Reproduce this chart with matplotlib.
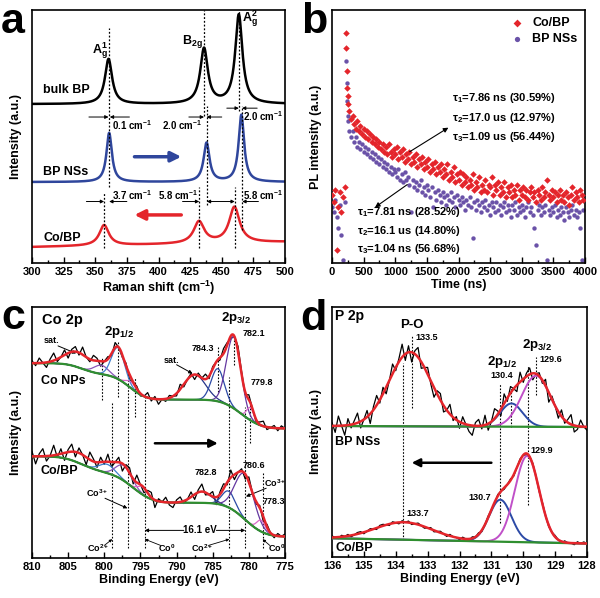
import math
import numpy as np
import matplotlib
matplotlib.use("Agg")
import matplotlib.pyplot as plt
from matplotlib.ticker import MultipleLocator, NullLocator

plt.rcParams["font.family"] = ["Liberation Sans", "DejaVu Sans"]
plt.rcParams["font.weight"] = "bold"
plt.rcParams["axes.labelweight"] = "bold"
plt.rcParams["mathtext.fontset"] = "custom"
plt.rcParams["mathtext.rm"] = "Liberation Sans:bold"
plt.rcParams["mathtext.it"] = "Liberation Sans:bold"
plt.rcParams["mathtext.bf"] = "Liberation Sans:bold"

# ---------------- data (y in axis-fraction units) -------
# (a) Raman: Lorentzian peak tables  [centre, amplitude, half width]
raman_bulk = [[360.5, 0.178, 3.4], [436.0, 0.218, 3.6], [463.5, 0.352, 3.4]]
raman_ns = [[361.0, 0.194, 2.6], [438.0, 0.154, 2.8], [465.5, 0.265, 2.6]]
raman_cobp = [[357.0, 0.081, 4.5], [432.0, 0.086, 5.0], [460.0, 0.141, 5.0]]
raman_base = {"bulk": (0.628, 0.628), "ns": (0.320, 0.320), "cobp": (0.063, 0.083)}

# (b) TRPL decay, sampled every 25 ns (percent of axis height)
pl_time = np.arange(0, 4000, 25)
pl_cobp = [27, 24, 29, 5, 22, 28, 20, 26, 30, 91,
           66, 60, 57, 58, 55, 53, 56, 52, 54, 51,
           53, 50, 52, 49, 51, 48, 50, 47, 49, 46,
           48, 45, 47, 44, 46, 43, 47, 44, 42, 45,
           43, 46, 41, 44, 42, 45, 40, 43, 41, 44,
           39, 42, 40, 43, 38, 41, 39, 42, 37, 40,
           38, 41, 36, 39, 37, 40, 35, 38, 36, 39,
           34, 37, 35, 39, 33, 36, 34, 38, 32, 35,
           33, 36, 31, 35, 32, 34, 30, 33, 31, 35,
           29, 32, 30, 34, 28, 31, 29, 33, 28, 31,
           30, 34, 27, 31, 29, 32, 27, 30, 28, 32,
           26, 30, 28, 31, 26, 29, 27, 31, 25, 29,
           27, 30, 26, 29, 25, 28, 30, 26, 28, 24,
           29, 27, 25, 30, 26, 28, 33, 27, 25, 29,
           26, 28, 24, 27, 29, 25, 27, 24, 28, 26,
           23, 27, 30, 25, 28, 26, 24, 29, 27, 25]
pl_ns = [22, 20, 25, 18, 14, 23, 11, 1, 24, 80,
         58, 52, 50, 52, 48, 50, 46, 48, 45, 47,
         44, 46, 43, 45, 42, 44, 41, 43, 40, 42,
         39, 41, 38, 40, 37, 39, 36, 38, 35, 37,
         36, 34, 37, 33, 35, 32, 36, 33, 34, 31,
         20, 33, 30, 32, 29, 31, 33, 28, 30, 27,
         31, 29, 26, 30, 22, 28, 25, 29, 27, 24,
         28, 26, 23, 27, 25, 28, 24, 26, 22, 27,
         25, 23, 26, 24, 21, 25, 23, 26, 22, 10,
         24, 21, 25, 23, 20, 24, 22, 25, 21, 23,
         19, 24, 22, 20, 24, 21, 23, 19, 22, 24,
         20, 23, 21, 18, 23, 21, 24, 19, 22, 20,
         23, 21, 18, 22, 24, 20, 22, 19, 14, 7,
         21, 23, 19, 22, 20, 23, 1, 21, 19, 22,
         20, 23, 18, 21, 19, 22, 20, 17, 22, 20,
         18, 21, 23, 19, 21, 18, 20, 14, 1, 21]
pl_peak_t_cobp = [215, 230, 240, 260]
pl_peak_cobp = [85, 76, 69, 63]
pl_peak_t_ns = [235, 245, 255]
pl_peak_ns = [71, 64, 56]

# (c) Co 2p: Shirley-like background steps [centre, height, width] + base
co_np_bg = (0.516, [[781.0, 0.115, 3.0], [796.5, 0.100, 2.5], [803.0, 0.045, 2.5]])
co_bp_bg = (0.085, [[780.5, 0.135, 3.0], [796.0, 0.120, 3.0], [803.0, 0.065, 3.0]])
# Gaussian components [centre, amplitude, sigma, colour key]
co_np_peaks = [[803.7, 0.060, 1.8, None], [800.4, 0.035, 1.0, "violet"],
               [798.1, 0.125, 0.9, "sky"], [796.3, 0.025, 0.7, "pink"],
               [787.5, 0.100, 1.5, "navy"], [784.3, 0.130, 0.9, "blue"],
               [782.1, 0.285, 1.0, "purple"], [779.8, 0.050, 0.5, "pink"]]
co_bp_peaks = [[803.5, 0.040, 1.8, None], [799.6, 0.035, 1.1, "sky"],
               [797.3, 0.060, 1.1, "violet"], [794.7, 0.030, 0.7, "pink"],
               [786.5, 0.045, 1.3, "navy"], [782.8, 0.065, 0.9, "blue"],
               [780.6, 0.180, 1.3, "purple"], [778.3, 0.045, 0.6, "pink"]]
# raw-data scatter about the fit, 810 -> 775 eV (units of 0.01)
co_np_resid = [1, -1, 2, 0, -2, 1, 3, -1, 0, 2, -2, 1, 2, -1, 3, 0, -1, 2, 1, -2,
               0, 1, -1, 2, 0, -1, 1, -2, 0, 1, -1, 0, 2, -1, 1, -2, 0, -1, 1, 0,
               -1, 2, -1, 0, 1, -2, 1, 0, 2, -1, 1, 0, -1, 2, 1, -1, 0, 2, 1, -1,
               2, 0, -1, 1, 2, -1, 0, 1, -1, 1, 0]
co_bp_resid = [2, -3, 1, 3, -2, 0, 4, -1, 2, -3, 1, 3, -2, 2, 0, -3, 3, 1, -2, 2,
               -1, 3, -2, 0, 2, -3, 1, 2, -2, 3, 0, -2, 1, 2, -3, 1, 0, 2, -1, -2,
               1, 2, -1, 0, 2, -2, 1, 3, -1, 0, 2, -3, 1, 2, -1, 3, -2, 0, 1, -2,
               2, 0, -1, 1, -2, 1, 0, -1, 1, 0, 1]

# (d) P 2p: backgrounds (left, right) and Gaussian components
p_ns_bg = (0.524, 0.520)
p_bp_bg = (0.075, 0.054)
p_ns_peaks = [[133.55, 0.297, 0.66, None], [130.37, 0.093, 0.35, "blue"],
              [129.60, 0.204, 0.45, "magenta"]]
p_bp_peaks = [[133.75, 0.070, 0.90, None], [130.72, 0.168, 0.35, "blue"],
              [129.88, 0.345, 0.38, "magenta"]]
p_ns_resid = [1, -2, 3, 0, -3, 2, -1, 1, 3, -2, 0, 2, -3, 1, 3, -1, 2, -2, 0, 3,
              -1, 1, 4, -2, 2, -3, 1, 3, -2, 0, 2, -1, -3, 1, 2, -2, 0, 3, -1, 1,
              -2, 2, 0, -2, -3, 1, 2, -1, 3, -2, 0, 3, 1, -2, 3, -1, 2, 0, -2, 3,
              -1, 1, 2, -2, 0, 1, -1, 2, -3, 1, 0, -2, 2, -1, 1, 3, -2, -1, 2, 0, -1]
p_bp_resid = [1, 0, -1, 1, 0, 1, -1, 0, 1, 1, -1, 0, 1, 0, -1, 1, 1, 0, -1, 1,
              0, -1, 1, 0, 1, -1, 0, 1, 0, -1, 0, 1, -1, 0, 1, 0, -1, 1, 0, 0,
              -1, 1, 0, -1, 1, 0, 1, -1, 0, 1, 0, -1, 1, 0, -1, 0, 1, -1, 0, 1,
              0, -1, 0, 1, 0, -1, 1, 0, -1, 0, 1, 0, -1, 1, 0, 0, -1, 1, 0, 1, 0]

# ---------------- colours ----------------
RED = "#e4252b"
BLUE_A = "#2f469c"
PURPLE_B = "#6a52a8"
GREEN = "#2f8f2f"
COMP = {"violet": "#8a55b8", "sky": "#3f7fcc", "pink": "#d868c8", "navy": "#26348a",
        "blue": "#2c4aa6", "purple": "#6437a0", "magenta": "#c050c8"}

erf = np.vectorize(math.erf)


def lor(x, c, a, w):
    return a * w ** 2 / ((x - c) ** 2 + w ** 2)


def gau(x, c, a, s):
    return a * np.exp(-(x - c) ** 2 / (2 * s ** 2))


def shirley(x, base, steps):
    y = np.full_like(x, base)
    for c, h, w in steps:
        y += h * 0.5 * (1 + erf((x - c) / w))
    return y


def style(ax, xlim, major, minor, xlabel, ylabel):
    ax.set_xlim(*xlim)
    ax.set_ylim(0, 1)
    ax.xaxis.set_major_locator(MultipleLocator(major))
    ax.xaxis.set_minor_locator(MultipleLocator(minor))
    ax.yaxis.set_major_locator(NullLocator())
    ax.tick_params(axis="x", which="both", direction="in", labelsize=8, pad=3)
    ax.tick_params(axis="x", which="major", length=4, width=1)
    ax.tick_params(axis="x", which="minor", length=2.5, width=1)
    for s in ax.spines.values():
        s.set_linewidth(1.2)
    ax.set_xlabel(xlabel, fontsize=9, labelpad=1)
    ax.set_ylabel(ylabel, fontsize=9, labelpad=7)
    for lab in ax.get_xticklabels():
        lab.set_fontweight("bold")


def vdot(ax, x, y0, y1, lw=0.9):
    ax.plot([x, x], [y0, y1], color="black", lw=lw, ls=(0, (1.5, 1.5)))


def arrow(ax, xy_from, xy_to, lw=0.8, ms=6, color="black", style_="-|>"):
    ax.annotate("", xy=xy_to, xytext=xy_from,
                arrowprops=dict(arrowstyle=style_, lw=lw, color=color,
                                mutation_scale=ms, shrinkA=0, shrinkB=0))


fig = plt.figure(figsize=(6.0, 5.98), dpi=100)
W, H = 600.0, 598.0


def add_axes(l, t, r, b):
    return fig.add_axes([l / W, 1 - b / H, (r - l) / W, (b - t) / H])


# ======================= (a) =======================
ax = add_axes(32, 10, 285, 263)
x = np.linspace(300, 500, 2001)
for key, peaks, col in [("bulk", raman_bulk, "black"), ("ns", raman_ns, BLUE_A),
                        ("cobp", raman_cobp, RED)]:
    b0, b1 = raman_base[key]
    y = b0 + (b1 - b0) * (x - 300) / 200
    for c, a, w in peaks:
        y = y + lor(x, c, a, w)
    ax.plot(x, y, color=col, lw=1.8)
style(ax, (300, 500), 25, 12.5, "Raman shift (cm$^{-1}$)", "Intensity (a.u.)")

for xv, y0, y1 in [(361, 0.30, 0.93), (357, 0.06, 0.28), (436.2, 0.58, 1.0),
                   (438, 0.23, 0.62), (432.4, 0.06, 0.30), (463.7, 0.60, 1.0),
                   (466, 0.13, 0.62), (460.5, 0.06, 0.30)]:
    vdot(ax, xv, y0, y1)

for (x0, x1), yv in [((345, 360.5), 0.577), ((377, 361.5), 0.577),
                     ((424, 436), 0.577), ((450, 438), 0.577),
                     ((454, 463.5), 0.612), ((478, 466), 0.612),
                     ((343, 357), 0.243), ((375, 361), 0.243),
                     ((419, 432.2), 0.243), ((449, 438.2), 0.243),
                     ((449, 460.3), 0.243), ((479, 466.2), 0.243)]:
    arrow(ax, (x0, yv), (x1, yv), lw=0.7, ms=5)

ax.text(363, 0.545, "0.1 cm$^{-1}$", fontsize=7, va="center")
ax.text(434.5, 0.545, "2.0 cm$^{-1}$", fontsize=7, va="center", ha="right")
ax.text(467, 0.58, "2.0 cm$^{-1}$", fontsize=7, va="center")
ax.text(363, 0.27, "3.7 cm$^{-1}$", fontsize=7, va="center")
ax.text(431, 0.27, "5.8 cm$^{-1}$", fontsize=7, va="center", ha="right")
ax.text(467, 0.27, "5.8 cm$^{-1}$", fontsize=7, va="center")
ax.text(309, 0.685, "bulk BP", fontsize=9, va="center")
ax.text(309, 0.36, "BP NSs", fontsize=9, va="center")
ax.text(309, 0.10, "Co/BP", fontsize=9, va="center")
ax.text(354, 0.84, r"A$_\mathrm{g}^\mathrm{1}$", fontsize=9, ha="center", va="center")
ax.text(427, 0.875, r"B$_\mathrm{2g}$", fontsize=9, ha="center", va="center")
ax.text(472, 0.965, r"A$_\mathrm{g}^\mathrm{2}$", fontsize=9, ha="center", va="center")
arrow(ax, (381, 0.42), (418, 0.42), lw=2.5, ms=15, color=BLUE_A)
arrow(ax, (418, 0.19), (381, 0.19), lw=2.5, ms=15, color=RED)

# ======================= (b) =======================
ax = add_axes(332, 10, 585, 263)
t_c = np.concatenate([pl_time, pl_peak_t_cobp])
y_c = np.concatenate([pl_cobp, pl_peak_cobp]) / 100.0
t_n = np.concatenate([pl_time, pl_peak_t_ns])
y_n = np.concatenate([pl_ns, pl_peak_ns]) / 100.0
ax.scatter(t_n, y_n, s=10, marker="o", color=PURPLE_B, lw=0, label="BP NSs", zorder=2)
ax.scatter(t_c, y_c, s=11, marker="D", color=RED, lw=0, label="Co/BP", zorder=3)
style(ax, (0, 4000), 500, 250, "Time (ns)", "PL intensity (a.u.)")
h, l = ax.get_legend_handles_labels()
ax.legend(h[::-1], l[::-1], loc="upper right", frameon=False, fontsize=9,
          handletextpad=0.2, borderaxespad=0.2, labelspacing=0.3, markerscale=1.2)
for i, s in enumerate(["\u03c4$_1$=7.86 ns (30.59%)", "\u03c4$_2$=17.0 us (12.97%)",
                       "\u03c4$_3$=1.09 us (56.44%)"]):
    ax.text(1900, 0.652 - 0.077 * i, s, fontsize=8, va="center")
for i, s in enumerate(["\u03c4$_1$=7.81 ns (28.52%)", "\u03c4$_2$=16.1 us (14.80%)",
                       "\u03c4$_3$=1.04 ns (56.68%)"]):
    ax.text(400, 0.20 - 0.072 * i, s, fontsize=8, va="center")
arrow(ax, (1230, 0.44), (1840, 0.535), lw=0.8, ms=7)
arrow(ax, (1190, 0.31), (680, 0.22), lw=0.8, ms=7)

# ======================= (c) =======================
ax = add_axes(32, 307, 285, 558)
xf = np.linspace(775, 810, 1401)
for (base, steps), peaks, resid in [(co_np_bg, co_np_peaks, co_np_resid),
                                    (co_bp_bg, co_bp_peaks, co_bp_resid)]:
    bg = shirley(xf, base, steps)
    xr = np.linspace(810, 775, len(resid))
    bgr = shirley(xr, base, steps)
    fit = bg.copy()
    fitr = bgr.copy()
    for c, a, s, key in peaks:
        fit += gau(xf, c, a, s)
        fitr += gau(xr, c, a, s)
        if key is not None:
            ax.plot(xf, bg + gau(xf, c, a, s), color=COMP[key], lw=0.9, zorder=3)
    ax.plot(xr, fitr + np.array(resid) * 0.01, color="black", lw=0.9, zorder=2)
    ax.plot(xf, bg, color=GREEN, lw=1.6, zorder=4)
    ax.plot(xf, fit, color=RED, lw=1.8, zorder=5)
style(ax, (810, 775), 5, 2.5, "Binding Energy (eV)", "Intensity (a.u.)")

for xv, y0, y1 in [(800.3, 0.63, 0.80), (798.1, 0.64, 0.86), (798.9, 0.04, 0.62),
                   (796.7, 0.04, 0.74), (795.7, 0.56, 0.72), (794.4, 0.04, 0.65),
                   (784.3, 0.66, 0.84), (782.7, 0.04, 0.72), (782.1, 0.77, 0.89),
                   (780.5, 0.04, 0.60), (779.8, 0.46, 0.62), (778.1, 0.04, 0.34)]:
    vdot(ax, xv, y0, y1, lw=0.8)

ax.text(808.6, 0.95, "Co 2p", fontsize=10.5, va="center")
ax.text(798.0, 0.90, r"2p$_\mathrm{1/2}$", fontsize=9.5, ha="center", va="center")
ax.text(781.8, 0.955, r"2p$_\mathrm{3/2}$", fontsize=9.5, ha="center", va="center")
ax.text(780.9, 0.895, "782.1", fontsize=6.5, va="center")
ax.text(786.4, 0.835, "784.3", fontsize=6.5, ha="center", va="center")
ax.text(779.7, 0.70, "779.8", fontsize=6.5, va="center")
ax.text(807.3, 0.865, "sat.", fontsize=6.5, ha="center", va="center")
arrow(ax, (806.4, 0.845), (803.9, 0.815), lw=0.7, ms=5)
ax.text(790.7, 0.785, "sat.", fontsize=6.5, ha="center", va="center")
arrow(ax, (790.0, 0.77), (787.8, 0.735), lw=0.7, ms=5)
ax.text(808.8, 0.705, "Co NPs", fontsize=9, va="center")
ax.text(808.8, 0.345, "Co/BP", fontsize=9, va="center")
arrow(ax, (793.0, 0.457), (784.3, 0.457), lw=1.8, ms=12)
ax.text(786.0, 0.34, "782.8", fontsize=6.5, ha="center", va="center")
ax.text(779.3, 0.37, "780.6", fontsize=6.5, ha="center", va="center")
ax.text(776.4, 0.30, "Co$^{3+}$", fontsize=6.5, ha="center", va="center")
arrow(ax, (777.6, 0.278), (780.4, 0.245), lw=0.7, ms=5)
ax.text(776.6, 0.225, "778.3", fontsize=6.5, ha="center", va="center")
ax.text(801.0, 0.26, "Co$^{3+}$", fontsize=6.5, ha="center", va="center")
arrow(ax, (799.9, 0.238), (796.8, 0.198), lw=0.7, ms=5)
ax.text(786.8, 0.11, "16.1 eV", fontsize=7, ha="center", va="center")
arrow(ax, (789.0, 0.11), (794.4, 0.11), lw=0.7, ms=5)
arrow(ax, (784.5, 0.11), (780.5, 0.11), lw=0.7, ms=5)
for lab, xt, x_to in [("Co$^{2+}$", 800.9, 798.9), ("Co$^{0}$", 791.3, 794.4),
                      ("Co$^{2+}$", 786.5, 782.7), ("Co$^{0}$", 776.2, 778.1)]:
    ax.text(xt, 0.04, lab, fontsize=6.5, ha="center", va="center")
    x_from = xt - 0.9 if x_to < xt else xt + 0.9
    arrow(ax, (x_from, 0.05), (x_to, 0.075), lw=0.6, ms=4)

# ======================= (d) =======================
ax = add_axes(332, 307, 587, 557)
xf = np.linspace(128, 136, 1601)
for (b0, b1), peaks, resid, scale in [(p_ns_bg, p_ns_peaks, p_ns_resid, 0.013),
                                      (p_bp_bg, p_bp_peaks, p_bp_resid, 0.006)]:
    bg = b1 + (b0 - b1) * (xf - 128) / 8
    xr = np.linspace(136, 128, len(resid))
    bgr = b1 + (b0 - b1) * (xr - 128) / 8
    fit = bg.copy()
    fitr = bgr.copy()
    for c, a, s, key in peaks:
        fit += gau(xf, c, a, s)
        fitr += gau(xr, c, a, s)
        if key is not None:
            ax.plot(xf, bg + gau(xf, c, a, s), color=COMP[key], lw=1.4, zorder=3)
    ax.plot(xr, fitr + np.array(resid) * scale, color="black", lw=0.9, zorder=2)
    ax.plot(xf, bg, color=GREEN, lw=1.6, zorder=4)
    ax.plot(xf, fit, color=RED, lw=1.8, zorder=5)
style(ax, (136, 128), 1, 0.5, "Binding Energy (eV)", "Intensity (a.u.)")

for xv, y0, y1 in [(133.5, 0.595, 0.89), (133.77, 0.068, 0.775), (130.72, 0.135, 0.695),
                   (130.37, 0.52, 0.675), (129.85, 0.21, 0.768), (129.6, 0.65, 0.80)]:
    vdot(ax, xv, y0, y1, lw=0.8)

ax.text(135.9, 0.965, "P 2p", fontsize=10, va="center")
ax.text(133.5, 0.93, "P-O", fontsize=9.5, ha="center", va="center")
ax.text(133.38, 0.88, "133.5", fontsize=6.5, va="center")
ax.text(129.58, 0.848, r"2p$_\mathrm{3/2}$", fontsize=9.5, ha="center", va="center")
ax.text(129.5, 0.788, "129.6", fontsize=6.5, va="center")
ax.text(130.66, 0.781, r"2p$_\mathrm{1/2}$", fontsize=9.5, ha="center", va="center")
ax.text(130.68, 0.728, "130.4", fontsize=6.5, ha="center", va="center")
ax.text(135.9, 0.46, "BP NSs", fontsize=9, va="center")
arrow(ax, (131.0, 0.377), (133.5, 0.377), lw=1.8, ms=12)
ax.text(129.78, 0.425, "129.9", fontsize=6.5, va="center")
ax.text(131.0, 0.24, "130.7", fontsize=6.5, ha="right", va="center")
ax.text(133.68, 0.175, "133.7", fontsize=6.5, va="center")
ax.text(135.9, 0.035, "Co/BP", fontsize=9, va="center")

# panel letters
for s, xl, yl in [("a", 1, 33), ("b", 301, 33), ("c", 1, 329), ("d", 300, 330)]:
    fig.text(xl / W, 1 - yl / H, s, fontsize=31, fontweight="bold", va="baseline")

fig.savefig("out.png", dpi=100)
